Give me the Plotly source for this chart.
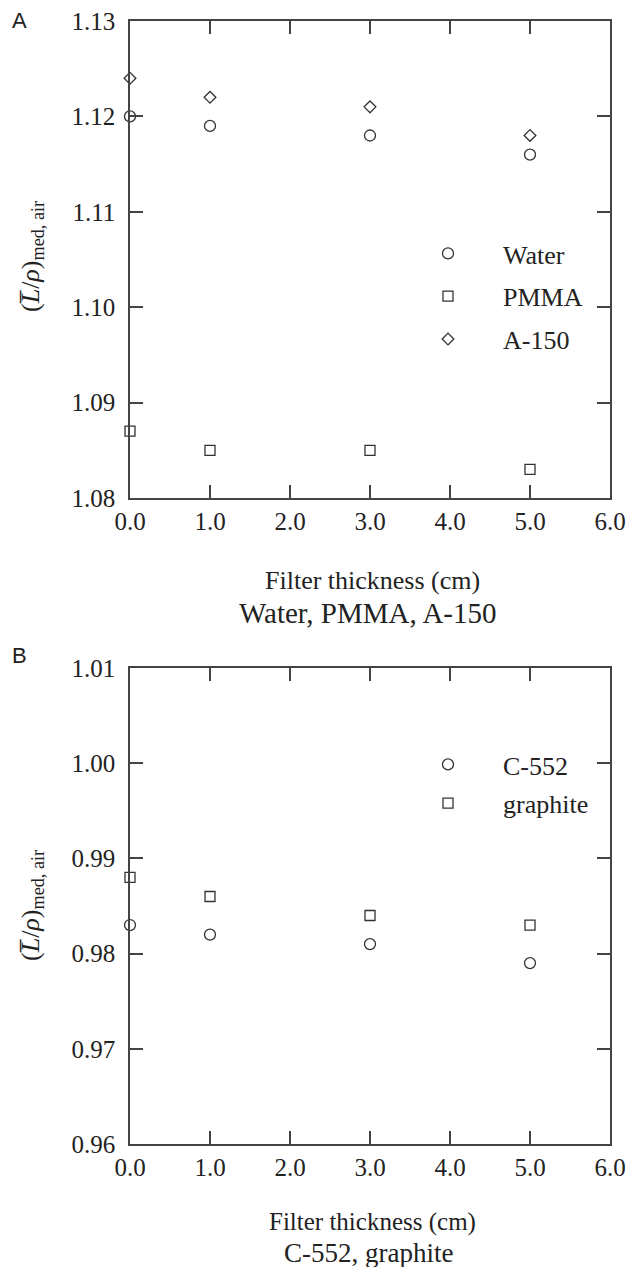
import plotly.graph_objects as go

# Data
thickness = [0.0, 1.0, 3.0, 5.0]
water = [1.120, 1.119, 1.118, 1.116]
pmma = [1.087, 1.085, 1.085, 1.083]
a150 = [1.124, 1.122, 1.121, 1.118]
c552 = [0.983, 0.982, 0.981, 0.979]
graphite = [0.988, 0.986, 0.984, 0.983]
x_ticks = [0.0, 1.0, 2.0, 3.0, 4.0, 5.0, 6.0]

W, H = 627, 1267
SERIF = "Liberation Serif"
INK = "#333333"
TXT = "#222222"

def px(v):
    return v / W

def py(v):
    return 1 - v / H

fig = go.Figure()

def add(x, y, name, symbol, size, xa, ya, legend):
    fig.add_trace(go.Scatter(
        x=x, y=y, mode="markers", name=name, xaxis=xa, yaxis=ya,
        legend=legend, legendgroup=name, cliponaxis=False,
        marker=dict(symbol=symbol, size=size, color="white",
                    line=dict(color=INK, width=1.3)),
    ))

add(thickness, water, "Water", "circle", 11, "x", "y", "legend")
add(thickness, pmma, "PMMA", "square", 10, "x", "y", "legend")
add(thickness, a150, "A-150", "diamond", 9, "x", "y", "legend")
add(thickness, c552, "C-552", "circle", 11, "x2", "y2", "legend2")
add(thickness, graphite, "graphite", "square", 10, "x2", "y2", "legend2")

xdom = [px(130), px(610)]
axis_common = dict(
    showline=True, linecolor="#444", linewidth=1.5, mirror="ticks",
    ticks="inside", ticklen=13, tickwidth=1.5, tickcolor="#444",
    showgrid=False, zeroline=False, automargin=False,
    tickfont=dict(family=SERIF, size=25, color=TXT),
)

fig.update_layout(
    width=W, height=H, margin=dict(l=0, r=0, t=0, b=0, autoexpand=False),
    paper_bgcolor="white", plot_bgcolor="white", template="none",
    xaxis=dict(domain=xdom, range=[0, 6], tickvals=x_ticks, tickformat=".1f",
               anchor="y", **axis_common),
    yaxis=dict(domain=[py(498), py(21)], range=[1.08, 1.13], dtick=0.01,
               tickformat=".2f", anchor="x", ticklabelstandoff=8, **axis_common),
    xaxis2=dict(domain=xdom, range=[0, 6], tickvals=x_ticks, tickformat=".1f",
                anchor="y2", **axis_common),
    yaxis2=dict(domain=[py(1144), py(668)], range=[0.96, 1.01], dtick=0.01,
                tickformat=".2f", anchor="x2", ticklabelstandoff=8, **axis_common),
    legend=dict(x=px(393), y=py(230), xanchor="left", yanchor="top",
                font=dict(family=SERIF, size=26, color=TXT),
                bgcolor="rgba(0,0,0,0)", itemwidth=100, tracegroupgap=6,
                traceorder="grouped"),
    legend2=dict(x=px(393), y=py(741), xanchor="left", yanchor="top",
                 font=dict(family=SERIF, size=26, color=TXT),
                 bgcolor="rgba(0,0,0,0)", itemwidth=100, tracegroupgap=2,
                 traceorder="grouped"),
    showlegend=True,
)

ylab = "(<i>L\u0305</i>/<i>\u03c1</i>)<sub>med, air</sub>"
annots = [
    dict(text="A", x=px(19), y=py(20), font=dict(family="Liberation Sans", size=22, color=TXT)),
    dict(text="B", x=px(19), y=py(655), font=dict(family="Liberation Sans", size=22, color=TXT)),
    dict(text=ylab, x=px(32), y=py(257), textangle=-90, font=dict(family=SERIF, size=26, color=TXT)),
    dict(text=ylab, x=px(32), y=py(906), textangle=-90, font=dict(family=SERIF, size=26, color=TXT)),
    dict(text="Filter thickness (cm)", x=px(372), y=py(580), font=dict(family=SERIF, size=26, color=TXT)),
    dict(text="Water, PMMA, A-150", x=px(368), y=py(613), font=dict(family=SERIF, size=29, color=TXT)),
    dict(text="Filter thickness (cm)", x=px(372), y=py(1222), font=dict(family=SERIF, size=25, color=TXT)),
    dict(text="C-552, graphite", x=px(368), y=py(1253), font=dict(family=SERIF, size=27, color=TXT)),
]
for a in annots:
    a.update(xref="paper", yref="paper", showarrow=False, xanchor="center", yanchor="middle")
    fig.add_annotation(**a)

fig.write_html("out.html")
